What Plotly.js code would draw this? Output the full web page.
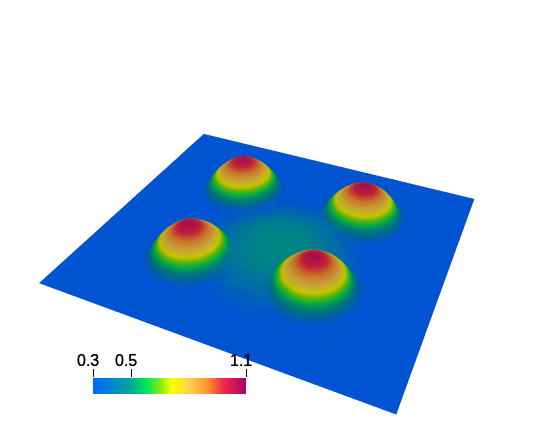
<!DOCTYPE html>
<html>
<head>
<meta charset="utf-8">
<script src="https://cdn.plot.ly/plotly-3.0.1.min.js"></script>
<style>html,body{margin:0;padding:0;background:#fff;overflow:hidden}</style>
</head>
<body>
<!-- taller than the window so the 3d view gets a flatter perspective -->
<div id="chart" style="position:absolute;left:0;top:-48px;width:538px;height:530px"></div>
<script>
// values
const gridCols = 61;
const gridRows = 53;
const floorLevel = 0.3;
const domeCols = [19, 41, 18, 42];
const domeRows = [16, 17, 37, 38];
const glowCol = 32;
const glowRow = 22;

// one quarter of a dome, distance from the peak in grid cells
const domeQuarter = [
  [1.05, 1.03, 0.98, 0.90, 0.81, 0.71, 0.58, 0.40, 0.30],
  [1.03, 1.01, 0.96, 0.89, 0.80, 0.70, 0.57, 0.39, 0.30],
  [0.98, 0.96, 0.92, 0.85, 0.77, 0.66, 0.53, 0.36, 0.30],
  [0.90, 0.89, 0.85, 0.79, 0.71, 0.60, 0.46, 0.33, 0.30],
  [0.81, 0.80, 0.77, 0.71, 0.63, 0.52, 0.37, 0.30, 0.30],
  [0.71, 0.70, 0.66, 0.60, 0.52, 0.39, 0.31, 0.30, 0.30],
  [0.58, 0.57, 0.53, 0.46, 0.37, 0.31, 0.30, 0.30, 0.30],
  [0.40, 0.39, 0.36, 0.33, 0.30, 0.30, 0.30, 0.30, 0.30],
  [0.30, 0.30, 0.30, 0.30, 0.30, 0.30, 0.30, 0.30, 0.30]
];

// one quarter of the faint rise in the middle, every second cell
const glowQuarter = [
  [0.49, 0.48, 0.47, 0.45, 0.43, 0.39, 0.35, 0.32, 0.30],
  [0.48, 0.48, 0.47, 0.45, 0.42, 0.39, 0.35, 0.32, 0.30],
  [0.47, 0.47, 0.46, 0.44, 0.41, 0.38, 0.34, 0.31, 0.30],
  [0.45, 0.45, 0.44, 0.42, 0.39, 0.35, 0.32, 0.30, 0.30],
  [0.43, 0.42, 0.41, 0.39, 0.36, 0.33, 0.31, 0.30, 0.30],
  [0.39, 0.39, 0.38, 0.35, 0.33, 0.31, 0.30, 0.30, 0.30],
  [0.35, 0.35, 0.34, 0.32, 0.31, 0.30, 0.30, 0.30, 0.30],
  [0.32, 0.32, 0.31, 0.30, 0.30, 0.30, 0.30, 0.30, 0.30],
  [0.30, 0.30, 0.30, 0.30, 0.30, 0.30, 0.30, 0.30, 0.30]
];

const barLevels = [0.3, 0.4, 0.5, 0.6, 0.7, 0.8, 0.9, 1.0, 1.1];
const tickValues = [0.3, 0.5, 1.1];
const tickLabels = ['0.3', '0.5', '1.1'];

const heatColors = [
  [0, '#0066ff'],
  [0.25, '#00aa96'],
  [0.35, '#00e65a'],
  [0.43, '#78eb14'],
  [0.51, '#ffff00'],
  [0.62, '#ffd246'],
  [0.74, '#ff9632'],
  [0.85, '#f02846'],
  [1, '#aa006e']
];

const xPos = [];
for (let i = 0; i < gridCols; i++) xPos.push(i / (gridCols - 1));
const yPos = [];
for (let i = 0; i < gridRows; i++) yPos.push(i / (gridRows - 1));

function stamp(z, quarter, col, row, step) {
  const n = quarter.length;
  for (let dy = -n + 1; dy < n; dy++) {
    for (let dx = -n + 1; dx < n; dx++) {
      const v = quarter[Math.abs(dy)][Math.abs(dx)];
      for (let a = 0; a < step; a++) {
        for (let b = 0; b < step; b++) {
          const r = row + dy * step + a, c = col + dx * step + b;
          if (r < 0 || c < 0 || r >= gridRows || c >= gridCols) continue;
          z[r][c] = Math.max(z[r][c], v);
        }
      }
    }
  }
}

const Z = [];
for (let i = 0; i < gridRows; i++) Z.push(new Array(gridCols).fill(floorLevel));
stamp(Z, glowQuarter, glowCol, glowRow, 2);
domeCols.forEach((c, i) => stamp(Z, domeQuarter, c, domeRows[i], 1));

const surface = {
  type: 'surface',
  x: xPos,
  y: yPos,
  z: Z,
  cmin: 0.3,
  cmax: 1.1,
  colorscale: heatColors,
  showscale: false,
  hoverinfo: 'skip',
  lighting: { ambient: 0.62, diffuse: 0.2, specular: 0, roughness: 1, fresnel: 0 },
  lightposition: { x: 0, y: 0, z: 100000 }
};

const bar = {
  type: 'heatmap',
  x: barLevels,
  y: [0],
  z: [barLevels],
  zmin: 0.3,
  zmax: 1.1,
  zsmooth: 'best',
  colorscale: heatColors,
  showscale: false,
  hoverinfo: 'skip'
};

// the 3d canvas sits over the axis layer, so the tick labels go in as annotations
const tickNotes = tickValues.map((v, i) => ({
  x: v,
  xref: 'x',
  y: (530 - 408) / 530,
  yref: 'paper',
  yanchor: 'middle',
  xshift: -5,
  showarrow: false,
  text: tickLabels[i],
  font: { size: 16, color: '#000', shadow: '0 0 0.7px #000' }
}));

const layout = {
  width: 538,
  height: 530,
  margin: { l: 0, r: 0, t: 0, b: 0 },
  paper_bgcolor: '#fff',
  plot_bgcolor: 'rgba(0,0,0,0)',
  showlegend: false,
  font: { family: '"Liberation Sans", Arial, sans-serif', color: '#000' },
  annotations: tickNotes,
  xaxis: {
    domain: [93 / 538, 246 / 538],
    range: [0.3, 1.1],
    side: 'top',
    tickmode: 'array',
    tickvals: tickValues,
    showticklabels: false,
    ticks: 'outside',
    ticklen: 8,
    tickwidth: 1,
    tickcolor: '#000',
    showgrid: false,
    zeroline: false,
    showline: false,
    fixedrange: true
  },
  yaxis: {
    domain: [88 / 530, 104 / 530],
    visible: false,
    fixedrange: true
  },
  scene: {
    domain: { x: [0, 1], y: [0, 1] },
    xaxis: { visible: false, range: [0, 1] },
    yaxis: { visible: false, range: [0, 1] },
    zaxis: { visible: false, range: [0.28, 1.12] },
    aspectmode: 'manual',
    aspectratio: { x: 1, y: 0.905, z: 0.13 },
    camera: {
      eye: { x: 0.6115, y: -1.353, z: 1.128 },
      center: { x: -0.016, y: -0.007, z: 0.014 },
      up: { x: 0, y: 0, z: 1 }
    }
  }
};

Plotly.newPlot('chart', [surface, bar], layout, { displayModeBar: false });
</script>
</body>
</html>
